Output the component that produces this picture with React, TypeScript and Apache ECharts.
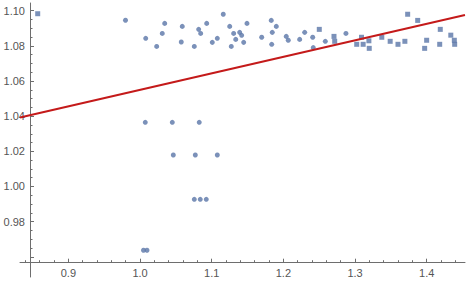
import { useEffect, useRef } from "react";
import * as echarts from "echarts";

const circlePoints: [number, number][] = [
  [0.9797, 1.0946], [1.0344, 1.0928], [1.0589, 1.0911], [1.093, 1.0928],
  [1.0818, 1.0894], [1.0846, 1.0871], [1.031, 1.0871], [1.0079, 1.0843],
  [1.0575, 1.0822], [1.0232, 1.0797], [1.0757, 1.0797], [1.1161, 1.098],
  [1.1492, 1.0928], [1.1251, 1.0911], [1.1831, 1.0945], [1.1901, 1.0911],
  [1.1306, 1.0871], [1.139, 1.0877], [1.1418, 1.086], [1.1078, 1.0843],
  [1.1008, 1.082], [1.1335, 1.0837], [1.1446, 1.082], [1.1273, 1.0797],
  [1.1697, 1.0849], [1.1845, 1.0877], [1.1837, 1.0809], [1.204, 1.0854],
  [1.2068, 1.0832], [1.2227, 1.0837], [1.2297, 1.0877], [1.2409, 1.0849],
  [1.2417, 1.079], [1.2585, 1.0826], [1.2873, 1.0871],
  [1.0073, 1.0365], [1.045, 1.0365], [1.0826, 1.0365],
  [1.0464, 1.0179], [1.0771, 1.0179], [1.1078, 1.0179],
  [1.0757, 0.9927], [1.084, 0.9927], [1.0924, 0.9927],
  [1.0048, 0.9637], [1.0097, 0.9637],
];

const squarePoints: [number, number][] = [
  [0.8572, 1.0983], [1.2501, 1.0894], [1.2706, 1.0854], [1.2716, 1.0826],
  [1.3023, 1.0809], [1.309, 1.0849], [1.3113, 1.0809], [1.3193, 1.0829],
  [1.3198, 1.0786], [1.3373, 1.0849], [1.349, 1.0826], [1.3599, 1.0809],
  [1.3695, 1.0826], [1.3734, 1.098], [1.3874, 1.0945], [1.3999, 1.0832],
  [1.3971, 1.0786], [1.4189, 1.0894], [1.4181, 1.0809], [1.4336, 1.0861],
  [1.4385, 1.0832], [1.439, 1.0809],
];

const fitIntercept = 0.9611;
const fitSlope = 0.0939;
const fitXStart = 0.8325;
const fitXEnd = 1.4534;

const xMajorTicks = [0.9, 1.0, 1.1, 1.2, 1.3, 1.4];
const xMinorTicks = [
  0.84, 0.86, 0.88, 0.92, 0.94, 0.96, 0.98, 1.02, 1.04, 1.06, 1.08,
  1.12, 1.14, 1.16, 1.18, 1.22, 1.24, 1.26, 1.28, 1.32, 1.34, 1.36, 1.38,
  1.42, 1.44,
];
const yMajorTicks = [0.96, 0.98, 1.0, 1.02, 1.04, 1.06, 1.08, 1.1];
const yLabelTicks = [0.98, 1.0, 1.02, 1.04, 1.06, 1.08, 1.1];
const yMinorTicks = [
  0.965, 0.97, 0.975, 0.985, 0.99, 0.995, 1.005, 1.01, 1.015, 1.025, 1.03,
  1.035, 1.045, 1.05, 1.055, 1.065, 1.07, 1.075, 1.085, 1.09, 1.095,
];

const X_MIN = 0.8325;
const X_MAX = 1.4534;
const Y_MIN = 0.9485;
const Y_MAX = 1.1044;

const AXIS_COLOR = "#6e6e6e";
const LABEL_COLOR = "#555555";
const POINT_COLOR = "#5A76A8";
const LINE_COLOR = "#C41A1A";

export default function App() {
  const ref = useRef<HTMLDivElement>(null);
  useEffect(() => {
    if (!ref.current) return;
    const chart = echarts.init(ref.current, null, { renderer: "svg" });
    const fitLine = [fitXStart, fitXEnd].map((x) => [x, fitIntercept + fitSlope * x]);
    const labelStyle = {
      color: LABEL_COLOR,
      fontSize: 11,
      fontFamily: "Liberation Sans, Arial, sans-serif",
    };
    chart.setOption({
      animation: false,
      backgroundColor: "#ffffff",
      grid: { left: 20, right: 2, top: 3, bottom: 7, outerBoundsMode: "none" },
      xAxis: [
        {
          type: "value",
          min: X_MIN,
          max: X_MAX,
          position: "bottom",
          offset: -14.3,
          splitLine: { show: false },
          axisLine: { show: true, onZero: false, lineStyle: { color: AXIS_COLOR, width: 1 } },
          axisTick: {
            show: true,
            inside: true,
            length: 4,
            customValues: xMajorTicks,
            lineStyle: { color: AXIS_COLOR },
          },
          axisLabel: {
            ...labelStyle,
            margin: 5,
            customValues: xMajorTicks,
            formatter: (v: number) => v.toFixed(1),
          },
        },
        {
          type: "value",
          min: X_MIN,
          max: X_MAX,
          position: "bottom",
          offset: -14.3,
          splitLine: { show: false },
          axisLine: { show: false, onZero: false },
          axisTick: {
            show: true,
            inside: true,
            length: 2.5,
            customValues: xMinorTicks,
            lineStyle: { color: AXIS_COLOR },
          },
          axisLabel: { show: false },
        },
      ],
      yAxis: [
        {
          type: "value",
          min: Y_MIN,
          max: Y_MAX,
          position: "left",
          offset: -10,
          splitLine: { show: false },
          axisLine: { show: true, onZero: false, lineStyle: { color: AXIS_COLOR, width: 1 } },
          axisTick: {
            show: true,
            inside: true,
            length: 4,
            customValues: yMajorTicks,
            lineStyle: { color: AXIS_COLOR },
          },
          axisLabel: {
            ...labelStyle,
            margin: 5,
            customValues: yLabelTicks,
            formatter: (v: number) => v.toFixed(2),
          },
        },
        {
          type: "value",
          min: Y_MIN,
          max: Y_MAX,
          position: "left",
          offset: -10,
          splitLine: { show: false },
          axisLine: { show: false, onZero: false },
          axisTick: {
            show: true,
            inside: true,
            length: 2.5,
            customValues: yMinorTicks,
            lineStyle: { color: AXIS_COLOR },
          },
          axisLabel: { show: false },
        },
      ],
      series: [
        {
          type: "scatter",
          xAxisIndex: 0,
          yAxisIndex: 0,
          data: circlePoints,
          symbol: "circle",
          symbolSize: 5,
          itemStyle: { color: POINT_COLOR },
          z: 2,
        },
        {
          type: "scatter",
          xAxisIndex: 0,
          yAxisIndex: 0,
          data: squarePoints,
          symbol: "rect",
          symbolSize: 5,
          itemStyle: { color: POINT_COLOR },
          z: 2,
        },
        {
          type: "line",
          xAxisIndex: 0,
          yAxisIndex: 0,
          data: fitLine,
          showSymbol: false,
          symbol: "none",
          lineStyle: { color: LINE_COLOR, width: 2 },
          z: 3,
        },
      ],
    });
    return () => chart.dispose();
  }, []);
  return (
    <div
      ref={ref}
      style={{ position: "fixed", left: 0, top: 0, width: 467, height: 284, background: "#fff" }}
    />
  );
}
